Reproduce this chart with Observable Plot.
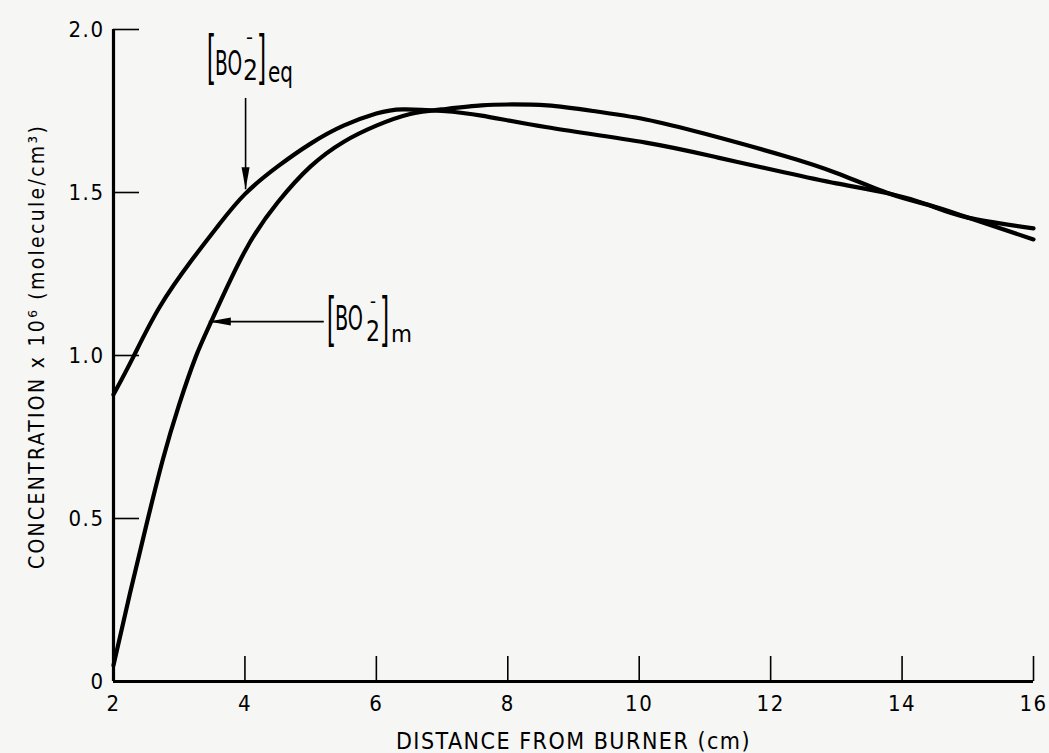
<!DOCTYPE html>
<html>
<head>
<meta charset="utf-8">
<script src="https://cdn.jsdelivr.net/npm/d3@7"></script>
<script src="https://cdn.jsdelivr.net/npm/@observablehq/plot@0.6"></script>
<style>
  body { margin: 0; background: #f6f6f4; }
</style>
</head>
<body>
<div id="chart"></div>
<script>
// Tick values
const xTicks = [2, 4, 6, 8, 10, 12, 14, 16];
const yTicks = [0, 0.5, 1.0, 1.5, 2.0];
const yTickMarks = [0.5, 1.0, 1.5, 2.0];
const xTickMarks = [4, 6, 8, 10, 12, 14, 16];

// [BO2-]eq curve
const distEq = [2.0, 2.3, 2.7, 3.2, 3.6, 4.0, 4.5, 5.0, 5.5, 6.0, 6.4, 7.0, 7.6, 8.6, 10.1, 11.2, 12.2, 13.0, 13.8, 14.4, 15.0, 16.0];
const concEq = [0.88, 0.995, 1.148, 1.295, 1.40, 1.495, 1.58, 1.65, 1.705, 1.742, 1.755, 1.75, 1.736, 1.70, 1.653, 1.607, 1.562, 1.528, 1.497, 1.462, 1.423, 1.39];

// [BO2-]m curve
const distM = [2.0, 2.25, 2.5, 2.75, 3.0, 3.25, 3.5, 4.0, 4.5, 5.0, 5.5, 6.0, 6.5, 7.0, 7.6, 8.0, 8.6, 9.3, 10.1, 11.0, 12.2, 13.0, 13.8, 14.4, 15.0, 16.0];
const concM = [0.05, 0.27, 0.48, 0.68, 0.85, 0.995, 1.11, 1.32, 1.47, 1.58, 1.655, 1.705, 1.74, 1.755, 1.767, 1.77, 1.767, 1.75, 1.724, 1.68, 1.613, 1.56, 1.497, 1.462, 1.423, 1.356];

// Annotation arrows
const arrowEq = {x: 4.01, yFrom: 1.79, yTip: 1.51};
const arrowM = {y: 1.104, xFrom: 5.2, xTip: 3.45};

// Label anchors (left of bracket, main-text baseline)
const labelEq = {x: 3.446, y: 1.859};
const labelM = {x: 5.272, y: 1.077};

const eqData = distEq.map((x, i) => ({x, y: concEq[i]}));
const mData = distM.map((x, i) => ({x, y: concM[i]}));

const FONT = "'DejaVu Sans Condensed', 'DejaVu Sans', sans-serif";
const BRACKET_FONT = "'Liberation Sans', Arial, sans-serif";
const Y_TITLE = "CONCENTRATION x 10⁶ (molecule/cm³)";
const X_TITLE = "DISTANCE FROM BURNER (cm)";

const headDown = {
  draw(ctx) { ctx.moveTo(0, 0); ctx.lineTo(-4, -22); ctx.lineTo(4, -22); ctx.closePath(); }
};

const chart = Plot.plot({
  width: 1049,
  height: 753,
  marginLeft: 113,
  marginRight: 16,
  marginTop: 29,
  marginBottom: 72,
  style: {fontFamily: FONT, background: "#f6f6f4", color: "black", letterSpacing: "1.5px"},
  x: {domain: [2, 16]},
  y: {domain: [0, 2]},
  marks: [
    Plot.axisX(xTicks, {tickSize: 0, tickPadding: 14, fontSize: 22, tickFormat: d => String(d), label: null}),
    Plot.axisY(yTicks, {tickSize: 0, tickPadding: 9, fontSize: 22, tickFormat: d => d === 0 ? "0" : d.toFixed(1), label: null}),
    Plot.tickX(xTickMarks, {x: d => d, insetTop: 627, strokeWidth: 1.6, stroke: "black"}),
    Plot.tickY(yTickMarks, {y: d => d, insetRight: 894, strokeWidth: 1.6, stroke: "black"}),
    Plot.ruleX([2], {y1: 0, y2: 2, strokeWidth: 3.2, stroke: "black"}),
    Plot.ruleY([0], {x1: 2, x2: 16, strokeWidth: 3.2, stroke: "black"}),
    Plot.line(eqData, {x: "x", y: "y", curve: "natural", stroke: "black", strokeWidth: 4.2}),
    Plot.line(mData, {x: "x", y: "y", curve: "natural", stroke: "black", strokeWidth: 4.2}),
    Plot.link([arrowEq], {x1: "x", x2: "x", y1: "yFrom", y2: "yTip", stroke: "black", strokeWidth: 1.6}),
    Plot.link([arrowM], {x1: "xFrom", x2: "xTip", y1: "y", y2: "y", stroke: "black", strokeWidth: 1.6}),
    Plot.dot([arrowEq], {x: "x", y: "yTip", symbol: headDown, fill: "black", stroke: "none", rotate: 0}),
    Plot.dot([arrowM], {x: "xTip", y: "y", symbol: headDown, fill: "black", stroke: "none", rotate: 90}),
    Plot.text([X_TITLE], {frameAnchor: "bottom", textAnchor: "middle", lineAnchor: "middle", dy: 60, fontSize: 23, fill: "black"}),
    Plot.text([Y_TITLE], {frameAnchor: "left", textAnchor: "middle", lineAnchor: "middle", dx: -76, dy: -9, rotate: -90, fontSize: 21, fill: "black"})
  ]
});

document.getElementById("chart").appendChild(chart);

const svg = d3.select(chart);
svg.selectAll("text").filter(function() { return this.textContent === Y_TITLE; }).style("letter-spacing", "2.3px");

// Bracketed labels: glyph groups as separate texts, narrowed with a horizontal scale
const X = chart.scale("x"), Y = chart.scale("y");
function label(anchor, parts) {
  const g = svg.append("g")
    .attr("transform", `translate(${X.apply(anchor.x)},${Y.apply(anchor.y)})`)
    .attr("font-family", FONT)
    .attr("fill", "black")
    .attr("text-anchor", "start")
    .style("letter-spacing", "0px");
  parts.forEach(p => {
    const s = g.append("text")
      .attr("font-size", p.size)
      .text(p.t);
    if (p.bracket) s.attr("font-family", BRACKET_FONT);
    const natural = s.node().getComputedTextLength() || p.w;
    s.attr("transform", `translate(${p.x},${p.y}) scale(${p.w / natural},1)`);
  });
}
label(labelEq, [
  {t: "[", x: -1, y: -1.5, size: 55, w: 7, bracket: true},
  {t: "BO", x: 7, y: 0, size: 34, w: 27},
  {t: "2", x: 35, y: 5, size: 28, w: 15},
  {t: "-", x: 38, y: -31, size: 20, w: 7},
  {t: "]", x: 51, y: -1.5, size: 55, w: 7, bracket: true},
  {t: "eq", x: 60, y: 7, size: 29, w: 25}
]);
label(labelM, [
  {t: "[", x: -1, y: 5, size: 55, w: 7, bracket: true},
  {t: "BO", x: 7, y: 0, size: 34, w: 28},
  {t: "2", x: 38, y: 11, size: 28, w: 14},
  {t: "-", x: 42, y: -22, size: 20, w: 6},
  {t: "]", x: 54, y: 5, size: 55, w: 7, bracket: true},
  {t: "m", x: 63, y: 12, size: 23, w: 21}
]);
</script>
</body>
</html>
